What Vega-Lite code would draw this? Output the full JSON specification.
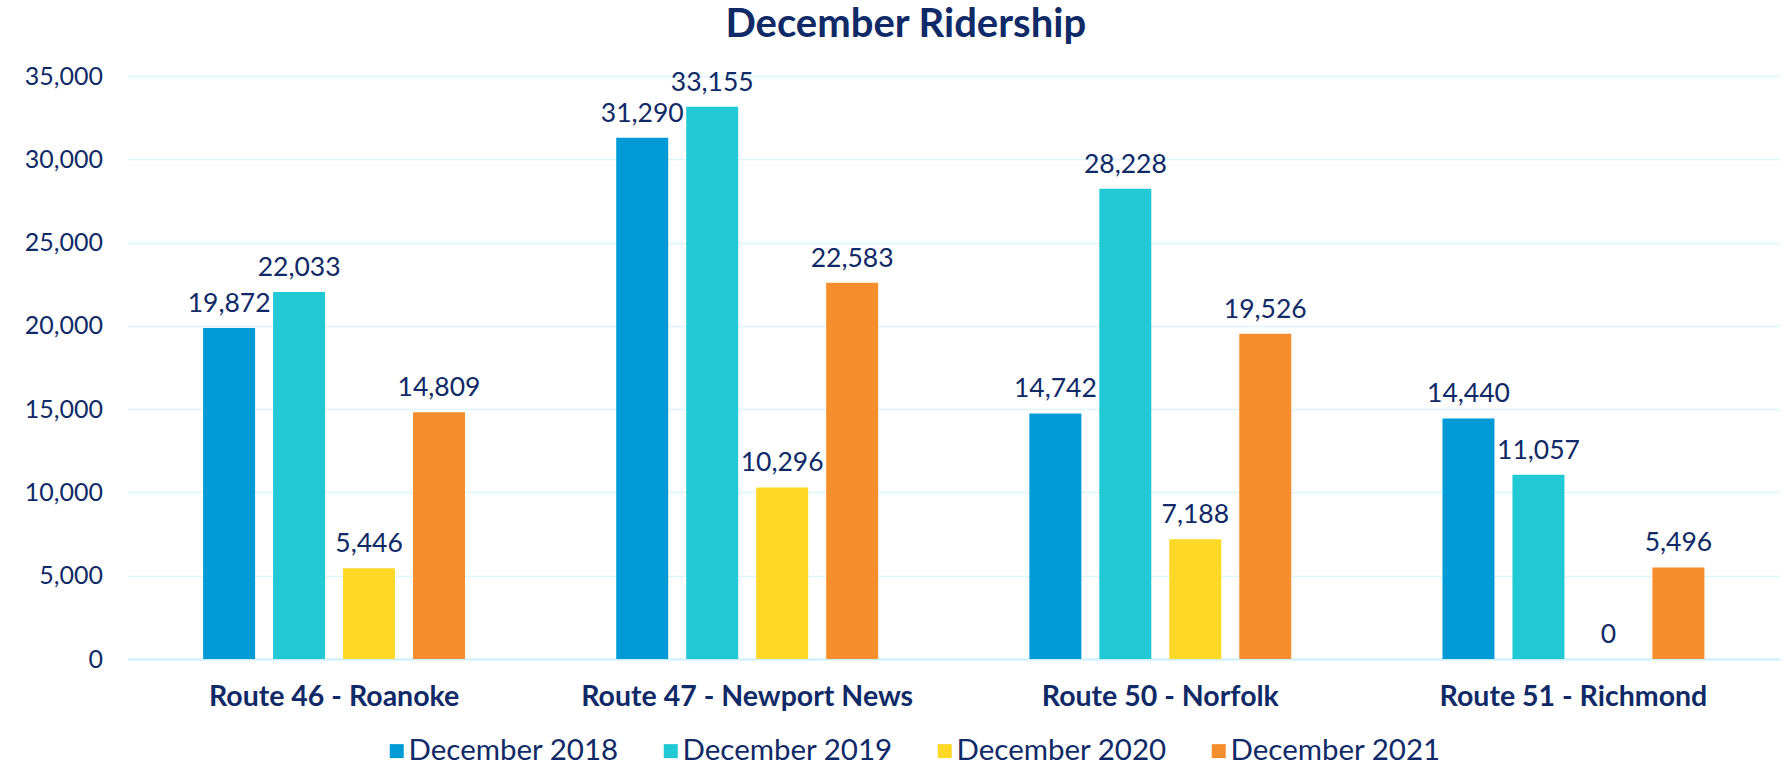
{
  "$schema": "https://vega.github.io/schema/vega-lite/v6.json",
  "autosize": {"type": "none"},
  "padding": {"left": 127.5, "top": 76, "right": 5, "bottom": 106},
  "width": 1652.5,
  "height": 583,
  "background": "white",
  "title": {
    "text": "December Ridership",
    "font": "Lato",
    "fontSize": 40,
    "fontWeight": "bold",
    "color": "#0F2A66",
    "anchor": "middle",
    "frame": "group",
    "dx": -48,
    "baseline": "top",
    "offset": 19
  },
  "data": {
    "values": [
      {"route": "Route 46 - Roanoke", "year": "December 2018", "riders": 19872},
      {"route": "Route 46 - Roanoke", "year": "December 2019", "riders": 22033},
      {"route": "Route 46 - Roanoke", "year": "December 2020", "riders": 5446},
      {"route": "Route 46 - Roanoke", "year": "December 2021", "riders": 14809},
      {"route": "Route 47 - Newport News", "year": "December 2018", "riders": 31290},
      {"route": "Route 47 - Newport News", "year": "December 2019", "riders": 33155},
      {"route": "Route 47 - Newport News", "year": "December 2020", "riders": 10296},
      {"route": "Route 47 - Newport News", "year": "December 2021", "riders": 22583},
      {"route": "Route 50 - Norfolk", "year": "December 2018", "riders": 14742},
      {"route": "Route 50 - Norfolk", "year": "December 2019", "riders": 28228},
      {"route": "Route 50 - Norfolk", "year": "December 2020", "riders": 7188},
      {"route": "Route 50 - Norfolk", "year": "December 2021", "riders": 19526},
      {"route": "Route 51 - Richmond", "year": "December 2018", "riders": 14440},
      {"route": "Route 51 - Richmond", "year": "December 2019", "riders": 11057},
      {"route": "Route 51 - Richmond", "year": "December 2020", "riders": 0},
      {"route": "Route 51 - Richmond", "year": "December 2021", "riders": 5496}
    ]
  },
  "encoding": {
    "x": {
      "field": "route",
      "type": "nominal",
      "sort": null,
      "title": null,
      "scale": {"paddingInner": 0.366, "paddingOuter": 0.183},
      "axis": {
        "labelAngle": 0,
        "labelFont": "Lato",
        "labelFontSize": 28.5,
        "labelFontWeight": "bold",
        "labelColor": "#0F2A66",
        "labelBaseline": "alphabetic",
        "labelPadding": 46,
        "labelLimit": 500,
        "ticks": false,
        "tickSize": 0,
        "domain": true,
        "domainColor": "#CDEFFB",
        "domainWidth": 2,
        "grid": false
      }
    },
    "xOffset": {
      "field": "year",
      "type": "nominal",
      "sort": null,
      "scale": {"paddingInner": 0.257, "paddingOuter": 0}
    },
    "y": {
      "field": "riders",
      "type": "quantitative",
      "title": null,
      "scale": {"domain": [0, 35000]},
      "axis": {
        "values": [0, 5000, 10000, 15000, 20000, 25000, 30000, 35000],
        "format": ",.0f",
        "labelFont": "Lato",
        "labelFontSize": 25,
        "labelColor": "#0F2A66",
        "labelPadding": 25,
        "ticks": false,
        "domain": false,
        "grid": true,
        "gridColor": "#DDF5FD",
        "gridWidth": 1.5
      }
    }
  },
  "layer": [
    {
      "mark": {"type": "bar"},
      "encoding": {
        "color": {
          "field": "year",
          "type": "nominal",
          "sort": null,
          "scale": {
            "domain": ["December 2018", "December 2019", "December 2020", "December 2021"],
            "range": ["#009BD6", "#20C9D4", "#FDD826", "#F68E2D"]
          },
          "legend": {
            "title": null,
            "orient": "none",
            "direction": "horizontal",
            "columns": 4,
            "legendX": 254.5,
            "legendY": 660,
            "symbolType": "square",
            "symbolSize": 196,
            "symbolStrokeWidth": 0,
            "symbolOpacity": 1,
            "labelFont": "Lato",
            "labelFontSize": 29.5,
            "labelColor": "#0F2A66",
            "labelOffset": -3,
            "labelLimit": 300,
            "columnPadding": 37
          }
        }
      }
    },
    {
      "mark": {
        "type": "text",
        "baseline": "alphabetic",
        "dy": -16,
        "font": "Lato",
        "fontSize": 26.5,
        "color": "#0F2A66"
      },
      "encoding": {
        "text": {"field": "riders", "type": "quantitative", "format": ","}
      }
    }
  ],
  "config": {
    "view": {"stroke": null}
  }
}
